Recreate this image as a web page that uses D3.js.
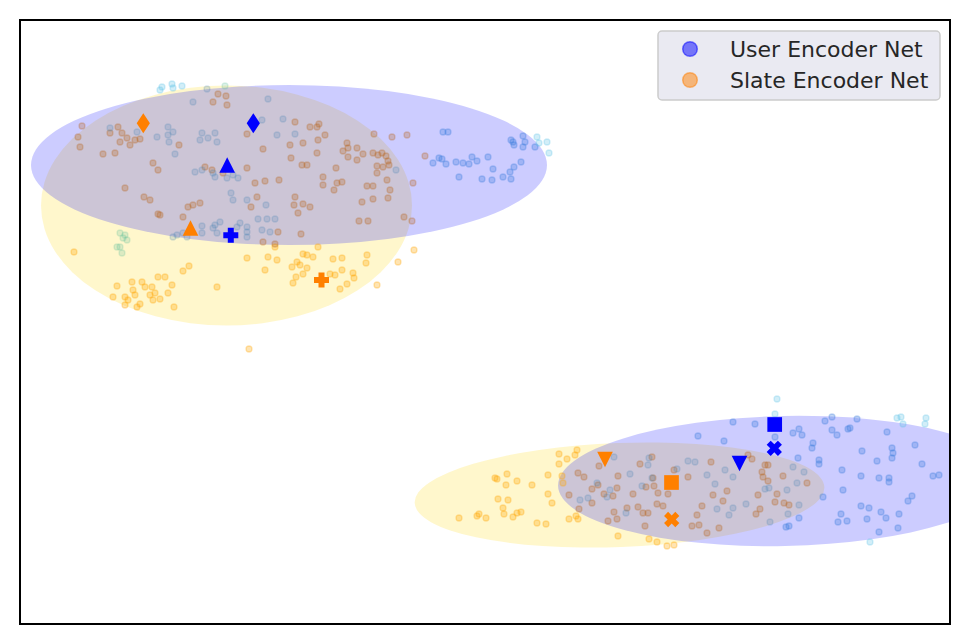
<!DOCTYPE html>
<html>
<head>
<meta charset="utf-8">
<script src="https://cdn.jsdelivr.net/npm/d3@7"></script>
<style>
  body { margin: 0; background: #fff; }
  .legend-label { font-family: "DejaVu Sans", sans-serif; font-size: 22px; fill: #262626; }
</style>
</head>
<body>
<div id="chart"></div>
<script>
// embedding coordinates of the individual samples, one array per colour group
const skyPoints = [
  [14.2, 53.7], [15.2, 54.0], [15.3, 53.6], [16.2, 53.8], [14.0, 53.4],
  [51.7, 48.7], [52.7, 48.2], [52.9, 47.1], [51.9, 48.1],
  [75.7, 22.5], [75.5, 21.0], [87.7, 20.6], [88.1, 20.7], [88.3, 20.0],
  [90.6, 20.6], [90.5, 20.0], [85.0, 8.2]
];
const cornPoints = [
  [42.3, 49.2], [42.8, 49.2], [41.3, 46.1], [41.9, 46.6], [42.2, 46.5], [42.6, 46.0],
  [43.6, 46.2], [44.3, 46.1], [44.9, 46.0], [45.2, 46.7], [45.7, 46.3], [46.8, 46.7],
  [43.9, 44.7], [46.2, 44.5], [47.2, 44.4], [47.3, 45.5], [48.3, 44.7], [49.0, 45.2],
  [49.4, 45.7], [50.1, 46.2], [49.1, 44.5], [49.3, 48.2], [49.1, 48.4], [50.3, 48.8],
  [50.5, 48.2], [50.3, 47.7], [49.4, 47.9], [51.5, 47.7],
  [71.3, 20.2], [73.5, 20.0], [67.8, 18.8], [70.4, 18.3], [75.5, 18.7], [77.3, 19.1],
  [77.9, 19.5], [78.2, 18.9], [80.5, 20.3], [81.2, 20.7], [81.2, 19.4], [81.7, 18.9],
  [82.8, 19.5], [83.0, 19.6], [83.7, 20.5], [79.3, 18.1], [79.2, 17.6], [77.8, 16.6],
  [79.9, 16.4], [79.9, 16.0], [82.2, 15.4], [84.2, 17.3], [85.7, 16.3], [86.7, 19.2],
  [87.2, 17.6], [87.3, 17.1], [87.2, 16.6], [89.5, 17.9], [90.2, 16.0], [91.3, 14.8],
  [91.9, 14.9], [84.1, 14.8], [85.9, 14.6], [86.9, 14.6], [86.9, 14.2], [89.2, 12.8],
  [88.8, 12.3], [82.3, 13.4], [80.3, 12.7], [84.1, 11.8], [84.9, 11.6], [82.1, 11.0],
  [81.8, 10.2], [82.7, 10.3], [84.7, 10.5], [86.1, 11.2], [87.9, 11.0], [86.6, 10.6],
  [87.8, 9.6], [85.9, 9.2], [77.9, 10.6], [76.9, 9.8], [76.6, 9.7]
];
const steelPoints = [
  [18.7, 53.5], [17.3, 52.2], [24.8, 52.5], [9.0, 49.6], [11.7, 49.2], [13.7, 48.7],
  [14.8, 49.7], [14.8, 48.9], [15.3, 49.2], [14.9, 48.2], [15.5, 47.0], [18.2, 49.1],
  [18.8, 48.6], [19.5, 49.1], [18.0, 48.4], [19.7, 48.2], [17.5, 45.2], [18.2, 45.4],
  [19.3, 45.1], [19.5, 44.7], [20.7, 44.6], [21.3, 44.9], [21.8, 44.6], [21.1, 43.1],
  [21.3, 42.4], [22.7, 42.4], [24.6, 41.9], [24.2, 50.4], [25.7, 48.9], [27.5, 49.0],
  [26.3, 50.5], [23.8, 40.5], [24.7, 40.5], [25.5, 40.5], [24.2, 39.4], [25.0, 39.2],
  [22.7, 39.7], [22.7, 39.2], [22.7, 38.7], [21.7, 39.7], [22.0, 40.1], [20.0, 40.2],
  [19.5, 39.9], [19.3, 39.6], [19.7, 39.1], [18.2, 39.8], [18.2, 39.1], [15.7, 38.9],
  [16.3, 39.1], [16.7, 38.7], [15.3, 38.7], [37.6, 45.4],
  [59.4, 16.7], [57.7, 14.1], [59.0, 13.4], [58.7, 12.7], [56.8, 12.6], [56.0, 12.4],
  [60.6, 11.1], [61.0, 15.0], [62.2, 13.8], [63.2, 14.6], [62.8, 15.9], [62.9, 16.6],
  [65.7, 15.5], [66.8, 16.3], [67.5, 16.2], [70.5, 15.4], [68.7, 14.9], [71.3, 14.7],
  [69.5, 14.0], [69.7, 11.5], [70.9, 10.9], [71.3, 11.6], [72.6, 12.0], [74.5, 13.5],
  [74.9, 13.6], [76.7, 13.4], [77.3, 15.7], [78.4, 15.2], [77.7, 14.1], [77.9, 11.9],
  [76.8, 11.0], [75.0, 10.2]
];
const brownPoints = [
  [19.8, 53.0], [20.6, 52.8], [19.3, 52.2], [20.7, 51.9], [9.8, 49.7], [9.0, 49.1],
  [10.2, 49.1], [10.7, 48.6], [11.5, 48.4], [12.0, 48.5], [11.0, 47.9], [10.0, 48.2],
  [8.3, 47.0], [9.5, 47.1], [5.8, 48.7], [6.0, 47.7], [6.2, 49.8], [15.9, 47.9],
  [13.3, 46.1], [13.8, 45.4], [10.5, 43.6], [12.4, 42.7], [13.0, 42.4], [13.8, 41.0],
  [14.0, 40.9], [16.8, 41.7], [17.3, 41.9], [18.0, 42.1], [16.3, 40.7], [18.5, 45.7],
  [19.2, 45.4], [20.3, 45.1], [22.7, 45.6], [22.7, 49.0], [24.3, 47.5], [23.5, 44.1],
  [24.5, 44.3], [25.9, 44.4], [23.7, 42.7], [23.1, 41.7], [27.5, 50.2], [29.0, 49.7],
  [27.0, 47.9], [27.1, 46.6], [28.3, 48.1], [28.2, 45.9], [28.7, 45.9], [27.5, 42.7],
  [27.4, 41.9], [28.3, 42.0], [29.0, 41.7], [27.8, 41.1], [29.7, 47.1], [29.8, 48.4],
  [24.3, 38.2], [25.5, 38.0], [25.8, 39.2], [28.1, 39.0], [29.7, 49.7], [29.9, 50.0],
  [30.5, 48.9], [32.7, 48.1], [32.8, 47.6], [32.3, 47.3], [33.7, 47.6], [34.3, 47.0],
  [33.7, 46.4], [32.8, 46.7], [31.6, 45.6], [30.3, 44.7], [30.3, 43.9], [31.7, 44.1],
  [32.2, 44.2], [31.4, 43.4], [35.4, 49.0], [37.2, 48.7], [38.7, 48.9], [35.3, 47.1],
  [35.8, 46.9], [36.2, 47.1], [36.6, 46.8], [36.8, 46.3], [35.7, 45.8], [36.3, 45.7],
  [36.9, 45.9], [35.7, 45.1], [34.7, 43.8], [35.3, 43.8], [37.0, 43.4], [36.7, 44.4],
  [35.3, 42.5], [36.8, 42.6], [34.2, 42.2], [33.9, 40.3], [34.8, 40.3], [38.4, 40.7],
  [39.2, 40.3], [39.3, 44.1], [40.5, 46.8],
  [55.8, 15.1], [56.4, 14.7], [57.2, 13.5], [57.8, 13.9], [58.4, 13.0], [57.2, 12.1],
  [55.9, 11.5], [54.9, 12.9], [57.9, 15.8], [59.8, 14.8], [59.7, 13.6], [59.3, 12.8],
  [59.4, 11.2], [60.7, 11.6], [61.3, 13.0], [61.8, 11.7], [62.0, 16.0], [63.2, 16.7],
  [63.7, 12.0], [62.3, 11.1], [62.8, 11.1], [64.3, 11.8], [63.8, 13.1], [64.8, 13.0],
  [62.6, 13.7], [63.4, 13.8], [65.4, 15.4], [66.8, 14.7], [62.5, 9.8], [59.7, 10.5],
  [58.8, 10.3], [69.1, 16.2], [72.8, 16.9], [74.2, 15.2], [74.5, 15.9], [74.8, 15.9],
  [76.3, 14.8], [78.7, 14.1], [73.8, 12.9], [75.7, 13.0], [68.2, 11.8], [70.3, 12.3],
  [69.3, 12.9], [70.7, 13.3], [67.7, 10.9], [67.9, 9.9], [67.2, 9.8], [68.7, 9.1],
  [69.9, 9.6], [74.0, 11.5], [73.6, 11.0], [75.5, 12.2], [76.4, 12.1], [76.9, 11.9],
  [63.3, 14.6], [74.3, 14.7], [74.8, 14.3], [73.2, 16.5]
];
const greenPoints = [
  [10.0, 39.1], [10.3, 38.6], [10.7, 38.4], [10.0, 37.7], [9.7, 37.7], [10.2, 37.1],
  [10.5, 38.9], [20.5, 53.8]
];
const orangePoints = [
  [5.4, 37.2], [9.3, 32.7], [9.7, 33.8], [10.5, 32.7], [10.8, 32.4], [11.2, 34.2],
  [11.3, 33.4], [11.5, 32.9], [12.2, 34.2], [12.5, 33.7], [13.2, 33.7], [13.0, 32.9],
  [13.5, 33.1], [13.3, 32.4], [14.0, 32.5], [14.8, 33.1], [15.2, 33.9], [13.8, 34.7],
  [14.5, 34.7], [16.3, 35.3], [16.9, 35.8], [19.7, 33.7], [15.4, 31.7], [11.7, 31.7],
  [12.0, 32.0], [10.5, 31.9], [22.7, 36.6], [24.8, 36.7], [24.5, 35.4], [25.5, 37.7],
  [27.2, 35.7], [27.3, 34.1], [27.6, 34.7], [27.7, 36.2], [28.0, 35.9], [28.3, 37.0],
  [28.7, 36.9], [28.7, 35.6], [28.3, 35.0], [29.3, 36.7], [29.8, 37.7], [31.3, 36.5],
  [32.2, 36.6], [32.2, 35.4], [31.0, 35.0], [31.5, 34.9], [33.3, 35.1], [33.4, 34.6],
  [32.7, 34.0], [32.0, 33.5], [34.6, 36.1], [34.7, 36.9], [35.7, 33.9], [37.8, 36.2],
  [39.4, 37.4], [22.9, 27.5], [25.7, 36.4],
  [43.9, 10.6], [45.7, 10.8], [45.9, 11.0], [46.6, 10.6], [47.5, 14.6], [47.7, 14.5],
  [48.7, 15.0], [48.6, 13.9], [49.7, 14.3], [47.8, 12.5], [48.8, 12.4], [48.3, 11.6],
  [48.4, 11.0], [49.3, 10.7], [49.7, 11.1], [50.1, 11.2], [51.2, 13.9], [51.7, 10.1],
  [52.6, 10.0], [52.8, 14.9], [52.8, 13.0], [53.2, 12.1], [53.9, 17.0], [53.9, 16.0],
  [54.7, 16.5], [55.5, 16.9], [55.7, 17.4], [54.2, 14.8], [54.3, 14.1], [54.9, 10.5],
  [55.6, 10.8], [55.8, 10.5], [59.8, 8.8], [62.9, 8.5], [63.7, 8.2], [64.7, 7.8],
  [65.4, 7.9]
];

// spread of each encoder's clusters (centre, semi axes, tilt in degrees)
const ellipses = [
  { net: "slate", cx: 20.65, cy: 41.85, rx: 18.55, ry: 12.0, angle: 0 },
  { net: "slate", cx: 59.95, cy: 12.9, rx: 20.5, ry: 5.2, angle: 2.2 },
  { net: "user", cx: 26.9, cy: 45.9, rx: 25.8, ry: 8.0, angle: 0 },
  { net: "user", cx: 76.4, cy: 14.3, rx: 22.6, ry: 6.5, angle: 1.2 }
];

// cluster centres
const centres = [
  { net: "user", shape: "diamond", x: 23.33, y: 50.07 },
  { net: "user", shape: "triangleUp", x: 20.72, y: 45.64 },
  { net: "user", shape: "plus", x: 21.08, y: 38.88 },
  { net: "user", shape: "square", x: 75.47, y: 19.95 },
  { net: "user", shape: "cross", x: 75.43, y: 17.57 },
  { net: "user", shape: "triangleDown", x: 71.95, y: 16.3 },
  { net: "slate", shape: "diamond", x: 12.33, y: 50.07 },
  { net: "slate", shape: "triangleUp", x: 17.05, y: 39.35 },
  { net: "slate", shape: "plus", x: 30.15, y: 34.4 },
  { net: "slate", shape: "triangleDown", x: 58.5, y: 16.7 },
  { net: "slate", shape: "square", x: 65.15, y: 14.15 },
  { net: "slate", shape: "cross", x: 65.17, y: 10.45 }
];

const legendLabels = ["User Encoder Net", "Slate Encoder Net"];

const W = 969, H = 644;
const plot = { left: 20, top: 20, right: 950, bottom: 624 };

const x = d3.scaleLinear().domain([0, 93]).range([plot.left, plot.right]);
const y = d3.scaleLinear().domain([0, 60.4]).range([plot.bottom, plot.top]);

const netColor = { user: "#0000ff", slate: "#ff8000" };
const ellipseColor = { user: "#0000ff", slate: "#ffd700" };

// marker outlines, s = nominal size in px
function plusPoly(L, b) {
  return [[-b, -L], [b, -L], [b, -b], [L, -b], [L, b], [b, b], [b, L], [-b, L], [-b, b], [-L, b], [-L, -b], [-b, -b]];
}
function polyType(fn) {
  return {
    draw(ctx, s) {
      const pts = fn(s);
      ctx.moveTo(pts[0][0], pts[0][1]);
      pts.slice(1).forEach((p) => ctx.lineTo(p[0], p[1]));
      ctx.closePath();
    }
  };
}
const c45 = Math.SQRT1_2;
const shapes = {
  square: polyType((s) => [[-s * 0.49, -s * 0.49], [s * 0.49, -s * 0.49], [s * 0.49, s * 0.49], [-s * 0.49, s * 0.49]]),
  diamond: polyType((s) => [[0, -s * 0.67], [s * 0.44, 0], [0, s * 0.67], [-s * 0.44, 0]]),
  triangleUp: polyType((s) => [[0, -s * 0.69], [s * 0.52, s * 0.35], [-s * 0.52, s * 0.35]]),
  triangleDown: polyType((s) => [[0, s * 0.69], [s * 0.52, -s * 0.35], [-s * 0.52, -s * 0.35]]),
  plus: polyType((s) => plusPoly(s * 0.5, s * 0.2)),
  cross: polyType((s) => plusPoly(s * 0.53, s * 0.19).map(([a, b]) => [(a - b) * c45, (a + b) * c45]))
};

const svg = d3.select("#chart")
  .append("svg")
  .attr("width", W)
  .attr("height", H);

svg.append("rect").attr("width", W).attr("height", H).attr("fill", "#fff");

svg.append("clipPath")
  .attr("id", "plot-clip")
  .append("rect")
  .attr("x", plot.left)
  .attr("y", plot.top)
  .attr("width", plot.right - plot.left)
  .attr("height", plot.bottom - plot.top);

const area = svg.append("g").attr("clip-path", "url(#plot-clip)");

// ellipses
area.append("g")
  .selectAll("ellipse")
  .data(ellipses)
  .join("ellipse")
  .attr("transform", (d) => `translate(${x(d.cx)},${y(d.cy)}) rotate(${-d.angle})`)
  .attr("rx", (d) => x(d.cx + d.rx) - x(d.cx))
  .attr("ry", (d) => y(d.cy) - y(d.cy + d.ry))
  .attr("fill", (d) => ellipseColor[d.net])
  .attr("fill-opacity", 0.2);

// sample points
const groups = [
  { pts: orangePoints, color: "#ffa500", op: 0.3 },
  { pts: brownPoints, color: "#b8651b", op: 0.28 },
  { pts: greenPoints, color: "#5fbf9a", op: 0.22 },
  { pts: steelPoints, color: "#4682b4", op: 0.2 },
  { pts: cornPoints, color: "#3b7ddd", op: 0.3 },
  { pts: skyPoints, color: "#5cc3e6", op: 0.28 }
];
groups.forEach((g) => {
  area.append("g")
    .selectAll("circle")
    .data(g.pts)
    .join("circle")
    .attr("cx", (d) => x(d[0]))
    .attr("cy", (d) => y(d[1]))
    .attr("r", 3)
    .attr("fill", g.color)
    .attr("fill-opacity", g.op)
    .attr("stroke", g.color)
    .attr("stroke-opacity", g.op)
    .attr("stroke-width", 1.3);
});

// cluster centres
area.append("g")
  .selectAll("path")
  .data(centres)
  .join("path")
  .attr("transform", (d) => `translate(${x(d.x)},${y(d.y)})`)
  .attr("d", (d) => d3.symbol().type(shapes[d.shape]).size(15)())
  .attr("fill", (d) => netColor[d.net]);

// frame
svg.append("rect")
  .attr("x", plot.left)
  .attr("y", plot.top)
  .attr("width", plot.right - plot.left)
  .attr("height", plot.bottom - plot.top)
  .attr("fill", "none")
  .attr("stroke", "#000")
  .attr("stroke-width", 2);

// legend
const legend = svg.append("g").attr("transform", "translate(658,31)");
legend.append("rect")
  .attr("width", 282)
  .attr("height", 69)
  .attr("rx", 4)
  .attr("fill", "#eaeaf2")
  .attr("stroke", "#cccccc")
  .attr("stroke-width", 1.5);
["user", "slate"].forEach((net, i) => {
  const row = legend.append("g").attr("transform", `translate(0,${18 + i * 31})`);
  row.append("circle")
    .attr("cx", 32)
    .attr("cy", 0)
    .attr("r", 7.3)
    .attr("fill", netColor[net])
    .attr("fill-opacity", 0.5)
    .attr("stroke", netColor[net])
    .attr("stroke-opacity", 0.5)
    .attr("stroke-width", 1.5);
  row.append("text")
    .attr("class", "legend-label")
    .attr("x", 72)
    .attr("y", 7.5)
    .text(legendLabels[i]);
});
</script>
</body>
</html>
